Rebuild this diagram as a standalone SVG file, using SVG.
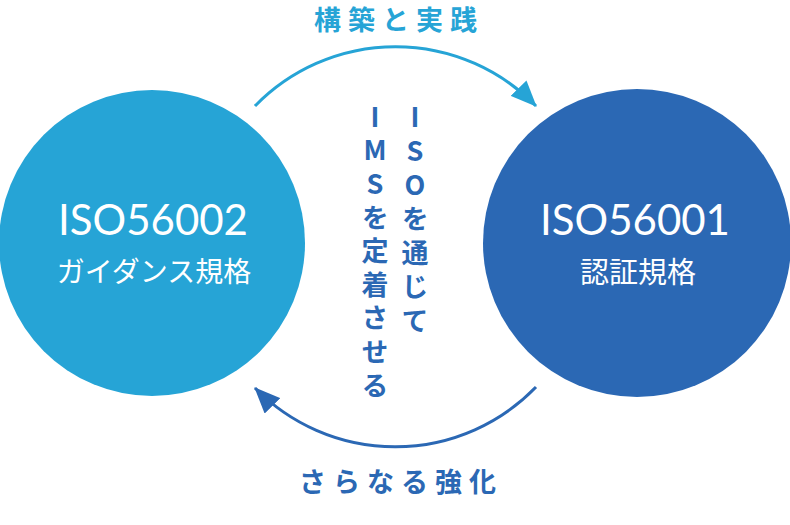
<svg xmlns="http://www.w3.org/2000/svg" width="790" height="525" viewBox="0 0 790 525">
<style>
.jp{font-family:"Noto Sans CJK JP","Noto Sans",sans-serif;}
.lat{font-family:"Lato","Noto Sans",sans-serif;}
.white{fill:#ffffff;}
.vt{font-family:"Noto Sans CJK JP",sans-serif;font-weight:bold;font-size:27px;fill:#2B68B4;writing-mode:vertical-rl;text-orientation:upright;}
.lbl{font-family:"Noto Sans CJK JP",sans-serif;font-weight:bold;font-size:27px;letter-spacing:7px;text-anchor:middle;dominant-baseline:central;}
.arc{fill:none;stroke-width:3;}
</style>
<defs>
<marker id="headLight" markerUnits="userSpaceOnUse" viewBox="0 0 26 22" refX="25" refY="11" markerWidth="26" markerHeight="22" orient="auto">
<path d="M0,0 L26,11 L0,22 z" fill="#26A4D6"/>
</marker>
<marker id="headDark" markerUnits="userSpaceOnUse" viewBox="0 0 26 22" refX="25" refY="11" markerWidth="26" markerHeight="22" orient="auto">
<path d="M0,0 L26,11 L0,22 z" fill="#2B68B4"/>
</marker>
</defs>
<g id="node-iso56002">
<circle cx="152" cy="243" r="153" fill="#26A4D6"/>
<text class="lat white" x="153" y="235" font-size="42" text-anchor="middle">ISO56002</text>
<text class="jp white" x="154" y="270" font-size="28" text-anchor="middle" dominant-baseline="central">ガイダンス規格</text>
</g>
<g id="node-iso56001">
<circle cx="637" cy="243" r="154" fill="#2B68B4"/>
<text class="lat white" x="635" y="235" font-size="42" text-anchor="middle">ISO56001</text>
<text class="jp white" x="638" y="270" font-size="29" text-anchor="middle" dominant-baseline="central">認証規格</text>
</g>
<g id="connectors">
<path class="arc" stroke="#26A4D6" d="M255,106 A196,196 0 0 1 536,106" marker-end="url(#headLight)"/>
<path class="arc" stroke="#2B68B4" d="M536,387 A196,196 0 0 1 255,388" marker-end="url(#headDark)"/>
</g>
<g id="label-top">
<text class="lbl" x="399" y="18" fill="#26A4D6">構築と実践</text>
</g>
<g id="label-bottom">
<text class="lbl" x="401" y="480" fill="#2B68B4">さらなる強化</text>
</g>
<g id="center-text">
<text class="vt" x="415" y="103" letter-spacing="7">ISOを通じて</text>
<text class="vt" x="375" y="103" letter-spacing="6.6">IMSを定着させる</text>
</g>
</svg>
